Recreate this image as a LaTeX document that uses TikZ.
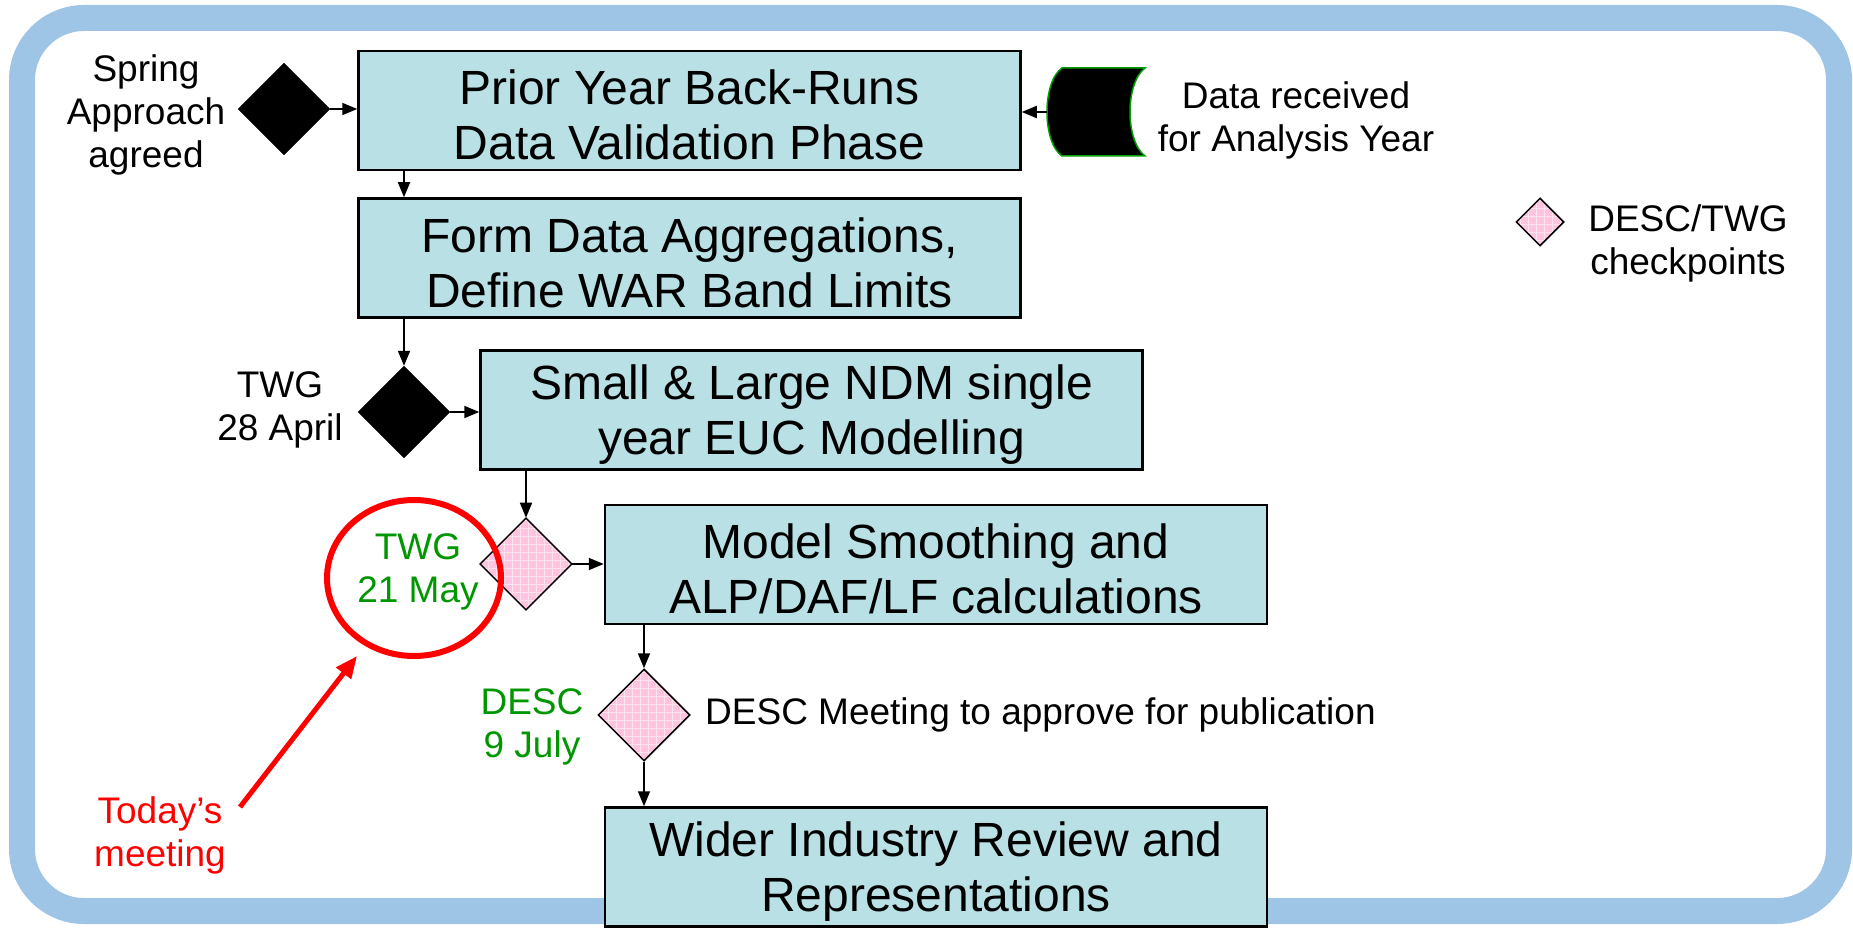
\documentclass[tikz,border=0pt]{standalone}
\usepackage{fontspec}
\setmainfont{Liberation Sans}
\usetikzlibrary{shapes.geometric,arrows.meta,patterns.meta}
\definecolor{boxfill}{RGB}{185,224,228}
\definecolor{frameblue}{RGB}{158,196,230}
\definecolor{pinkfill}{RGB}{255,196,224}
\definecolor{gridpink}{RGB}{255,226,240}
\definecolor{dgreen}{RGB}{0,150,0}
\definecolor{bred}{RGB}{255,0,0}
\definecolor{edgegreen}{RGB}{0,160,0}
\newcommand{\bxstrut}{\rule{0pt}{44pt}}
\begin{document}
\begin{tikzpicture}[x=1pt,y=-1pt,
  stepbox/.style={draw=black, line width=2.5pt, fill=boxfill, minimum width=662pt, minimum height=119pt, align=center, inner sep=0pt, font=\fontsize{48}{55}\selectfont},
  blackdia/.style={diamond, fill=black, draw=black, minimum width=92pt, minimum height=92pt, inner sep=0pt},
  pinkdia/.style={diamond, draw=black, line width=1.5pt, preaction={fill=pinkfill}, pattern={Hatch[angle=0,distance=8pt,line width=0.6pt]}, pattern color=gridpink, minimum width=92pt, minimum height=92pt, inner sep=0pt},
  lbl/.style={align=center, inner sep=0pt, font=\fontsize{37}{43}\selectfont},
  arr/.style={line width=1.8pt, -{Triangle[length=15pt,width=12pt]}}
]
\useasboundingbox (0,0) rectangle (1853,928);
% frame
\draw[frameblue, line width=26pt, rounded corners=62pt] (22,18) rectangle (1839,911);

% boxes
\node[stepbox] (box1) at (689.5,110.5) {\bxstrut Prior Year Back-Runs\\Data Validation Phase};
\node[stepbox] (box2) at (689.5,258) {\bxstrut Form Data Aggregations,\\Define WAR Band Limits};
\node[stepbox] (box3) at (811.5,410) {\bxstrut Small \& Large NDM single\\year EUC Modelling};
\node[stepbox] (box4) at (936,564.5) {\bxstrut Model Smoothing and\\ALP/DAF/LF calculations};
\node[stepbox] (box5) at (936,867) {\bxstrut Wider Industry Review and\\Representations};

% diamonds
\node[blackdia] (d1) at (284,109) {};
\node[blackdia] (d2) at (404,412) {};
\node[pinkdia] (d3) at (526,564) {};
\node[pinkdia] (d4) at (644,715) {};
\node[pinkdia, minimum width=48pt, minimum height=48pt] (leg) at (1540,222) {};

% data received shape
\draw[fill=black, draw=edgegreen, line width=1.5pt]
  (1062,68) -- (1145,68) .. controls (1125,83) and (1125,141) .. (1145,156)
  -- (1062,156) .. controls (1042,142) and (1042,82) .. (1062,68) -- cycle;
\coordinate (dataL) at (1047,112);

% labels
\node[lbl] (spring) at (146,115) {Spring\\Approach\\agreed};
\node[lbl] (datatxt) at (1296,120) {Data received\\for Analysis Year};
\node[lbl] (twg1) at (280,410) {TWG\\28 April};
\node[lbl, text=dgreen] (twg2) at (418,572) {TWG\\21 May};
\node[lbl, text=dgreen] (desc) at (532,727) {DESC\\9 July};
\node[lbl, anchor=west] (desctxt) at (705,715) {DESC Meeting to approve for publication};
\node[lbl, text=bred] (today) at (160,835) {Today’s\\meeting};
\node[lbl] (legtxt) at (1688,243) {DESC/TWG\\checkpoints};

% red highlight
\draw[bred, line width=6pt] (414,578) ellipse [x radius=87, y radius=78];
\coordinate (redtail) at (240,807);
\coordinate (redtip) at (357,656);
\draw[bred, line width=5pt, -{Triangle[length=22pt,width=18pt]}] (redtail) -- (redtip);

% connectors
\draw[arr] (d1.east) -- (box1.west |- d1.east);
\draw[arr] (dataL) -- (box1.east |- dataL);
\draw[arr] (box1.south -| d2.north) -- (box2.north -| d2.north);
\draw[arr] (box2.south -| d2.north) -- (d2.north);
\draw[arr] (d2.east) -- (box3.west |- d2.east);
\draw[arr] (box3.south -| d3.north) -- (d3.north);
\draw[arr] (d3.east) -- (box4.west |- d3.east);
\draw[arr] (box4.south -| d4.north) -- (d4.north);
\draw[arr] (d4.south) -- (box5.north -| d4.south);
\end{tikzpicture}
\end{document}
